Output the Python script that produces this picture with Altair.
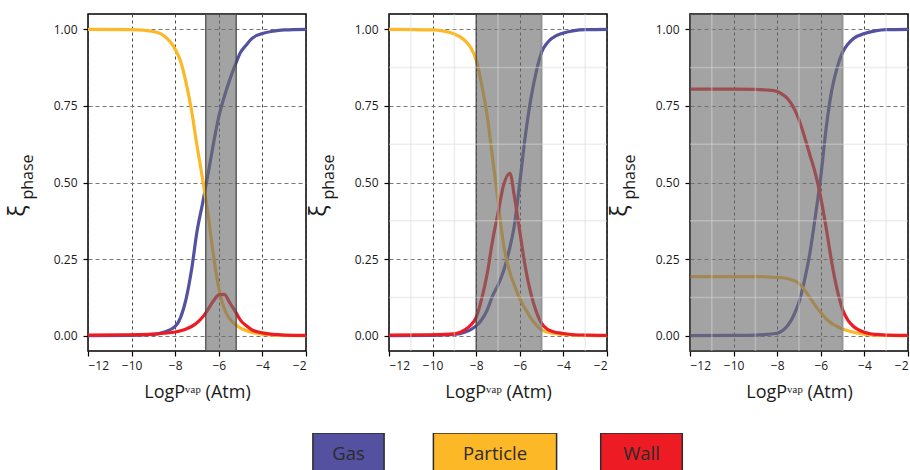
import altair as alt
import pandas as pd

PHASES = ["Gas", "Particle", "Wall"]
COLORS = ["#5451A0", "#FDB827", "#ED1C24"]

x_ticks = [-12, -10, -8, -6, -4, -2]
y_ticks = [0.0, 0.25, 0.5, 0.75, 1.0]
minor_x = [-11, -9, -7, -5, -3]
minor_y = [0.125, 0.375, 0.625, 0.875]

# Panel 1
x_p1 = [-12, -10, -9, -8.5, -8, -7.75, -7.5, -7.25, -7, -6.75, -6.5, -6.25, -6, -5.75, -5.5, -5.25, -5, -4.75, -4.5, -4, -3.5, -3, -2]
gas_p1 = [0.0, 0.001, 0.004, 0.012, 0.03, 0.06, 0.12, 0.215, 0.34, 0.43, 0.525, 0.625, 0.715, 0.78, 0.835, 0.883, 0.925, 0.948, 0.969, 0.986, 0.994, 0.998, 1.0]
particle_p1 = [1.0, 0.999, 0.993, 0.978, 0.935, 0.895, 0.825, 0.735, 0.62, 0.515, 0.40, 0.265, 0.155, 0.088, 0.055, 0.037, 0.025, 0.017, 0.011, 0.005, 0.002, 0.001, 0.0]
wall_p1 = [0.002, 0.003, 0.005, 0.008, 0.012, 0.016, 0.022, 0.03, 0.042, 0.06, 0.085, 0.113, 0.133, 0.135, 0.108, 0.08, 0.05, 0.033, 0.02, 0.009, 0.004, 0.002, 0.001]

# Panel 2
x_p2 = [-12, -10, -9, -8.5, -8.25, -8, -7.75, -7.5, -7.25, -7, -6.75, -6.45, -6.25, -6, -5.75, -5.5, -5.25, -5, -4.75, -4.5, -4, -3.5, -3, -2]
gas_p2 = [0.0, 0.001, 0.004, 0.012, 0.02, 0.032, 0.052, 0.083, 0.13, 0.165, 0.21, 0.29, 0.36, 0.50, 0.65, 0.77, 0.86, 0.925, 0.955, 0.972, 0.988, 0.996, 0.999, 1.0]
particle_p2 = [1.0, 0.998, 0.985, 0.962, 0.94, 0.90, 0.82, 0.72, 0.58, 0.44, 0.30, 0.205, 0.165, 0.12, 0.088, 0.058, 0.035, 0.019, 0.012, 0.008, 0.004, 0.002, 0.001, 0.0]
wall_p2 = [0.002, 0.003, 0.006, 0.02, 0.035, 0.06, 0.12, 0.2, 0.31, 0.40, 0.49, 0.53, 0.455, 0.34, 0.225, 0.14, 0.08, 0.04, 0.022, 0.014, 0.007, 0.003, 0.002, 0.001]

# Panel 3
x_p3 = [-12, -10, -9, -8.5, -8, -7.75, -7.5, -7.25, -7, -6.75, -6.5, -6.25, -6, -5.75, -5.5, -5.25, -5, -4.75, -4.5, -4, -3.5, -3, -2]
gas_p3 = [0.0, 0.001, 0.002, 0.004, 0.008, 0.017, 0.035, 0.065, 0.11, 0.18, 0.27, 0.39, 0.52, 0.68, 0.80, 0.875, 0.925, 0.952, 0.97, 0.986, 0.995, 0.999, 1.0]
particle_p3 = [0.193, 0.193, 0.193, 0.192, 0.19, 0.189, 0.186, 0.18, 0.17, 0.15, 0.124, 0.098, 0.075, 0.055, 0.04, 0.03, 0.022, 0.016, 0.011, 0.005, 0.002, 0.001, 0.0]
wall_p3 = [0.805, 0.805, 0.804, 0.802, 0.797, 0.787, 0.772, 0.745, 0.705, 0.65, 0.59, 0.53, 0.45, 0.35, 0.24, 0.15, 0.085, 0.05, 0.03, 0.011, 0.004, 0.002, 0.001]

band_lo = [-6.6, -8.0, -12.0]
band_hi = [-5.2, -5.0, -5.0]
has_minor = [False, True, True]

FONT = "Open Sans"
TXT = "#1a1a1a"
W, H = 218, 337

color_enc = alt.Color("phase:N", scale=alt.Scale(domain=PHASES, range=COLORS), legend=None)


def panel(xs, gas, part, wall, lo, hi, minor):
    n = len(xs)
    df = pd.DataFrame({
        "x": xs * 3,
        "phase": ["Gas"] * n + ["Particle"] * n + ["Wall"] * n,
        "value": gas + part + wall,
    })
    xsc = alt.Scale(domain=[-12, -2], nice=False, zero=False)
    ysc = alt.Scale(domain=[-0.05, 1.05], nice=False, zero=False)
    lines = alt.Chart(df).mark_line(strokeWidth=3.2, interpolate="monotone", clip=True).encode(
        x=alt.X("x:Q", scale=xsc, axis=alt.Axis(values=x_ticks, title="LogPᵛᵃᵖ (Atm)", grid=True)),
        y=alt.Y("value:Q", scale=ysc, axis=alt.Axis(values=y_ticks, format=".2f", title=None, grid=True)),
        color=color_enc,
    )
    band = alt.Chart(pd.DataFrame({"lo": [lo], "hi": [hi]})).mark_rect(
        color="#6e6e6e", fillOpacity=0.63, stroke="#444444", strokeWidth=1.5, strokeOpacity=0.8
    ).encode(x=alt.X("lo:Q", scale=xsc), x2="hi:Q")
    layers = [lines, band]
    if minor:
        vr = alt.Chart(pd.DataFrame({"mx": minor_x})).mark_rule(
            color="#d9d9d9", opacity=0.45, strokeWidth=1.5
        ).encode(x=alt.X("mx:Q", scale=xsc))
        hr = alt.Chart(pd.DataFrame({"my": minor_y})).mark_rule(
            color="#d9d9d9", opacity=0.45, strokeWidth=1.5
        ).encode(y=alt.Y("my:Q", scale=ysc))
        layers += [vr, hr]
    xi = alt.Chart(pd.DataFrame({"t": ["ξ"]})).mark_text(
        angle=270, fontSize=24, font=FONT, color=TXT, align="center", baseline="middle"
    ).encode(text="t:N", x=alt.value(-70), y=alt.value(197))
    sub = alt.Chart(pd.DataFrame({"t": ["phase"]})).mark_text(
        angle=270, fontSize=16, font=FONT, color=TXT, align="center", baseline="middle"
    ).encode(text="t:N", x=alt.value(-60), y=alt.value(163))
    layers += [xi, sub]
    return alt.layer(*layers).properties(width=W, height=H)


p1 = panel(x_p1, gas_p1, particle_p1, wall_p1, band_lo[0], band_hi[0], has_minor[0])
p2 = panel(x_p2, gas_p2, particle_p2, wall_p2, band_lo[1], band_hi[1], has_minor[1])
p3 = panel(x_p3, gas_p3, particle_p3, wall_p3, band_lo[2], band_hi[2], has_minor[2])

# custom box legend, aligned with the panels' plot area
LW = 818
leg_base = alt.Chart(pd.DataFrame({"phase": PHASES})).transform_window(
    idx="row_number()"
).transform_calculate(
    cx="407 + (datum.idx - 2) * 146.5",
    hw="20 + 5.2 * length(datum.phase)",
).transform_calculate(
    x0="datum.cx - datum.hw", x1="datum.cx + datum.hw"
)
lx = alt.Scale(domain=[0, LW], nice=False, zero=False)
boxes = leg_base.mark_rect(stroke="#2b2b2b", strokeWidth=1.5, clip=True).encode(
    x=alt.X("x0:Q", scale=lx, axis=None), x2="x1:Q",
    y=alt.value(0), y2=alt.value(60),
    color=color_enc,
)
labels = leg_base.mark_text(fontSize=18.5, font=FONT, color="#2b2b2b", baseline="middle").encode(
    x=alt.X("cx:Q", scale=lx, axis=None), y=alt.value(21), text="phase:N"
)
legend = alt.layer(boxes, labels).properties(
    width=LW, height=37, view=alt.ViewBackground(strokeOpacity=0)
)

top = alt.hconcat(p1, p2, p3, spacing=83, bounds="flush")
chart = alt.vconcat(top, legend, spacing=31).properties(
    padding={"left": 5, "top": 12, "right": 0, "bottom": 0}
).configure(font=FONT).configure_view(
    stroke="black", strokeWidth=1.5
).configure_axis(
    labelFont=FONT, labelFontSize=12, labelColor=TXT, labelPadding=4,
    tickColor="black", tickSize=5, tickWidth=1.2, domain=False,
    titleFont=FONT, titleFontSize=18, titleFontWeight="normal", titleColor=TXT, titlePadding=12,
).configure_axisY(
    gridDash=[4, 3], gridColor="#777777", gridWidth=1, labelPadding=6
).configure_axisX(
    gridDash=[3, 3], gridColor="#333333", gridWidth=0.9
)

chart.save("out.html", embed_options={"renderer": "svg", "actions": False})
